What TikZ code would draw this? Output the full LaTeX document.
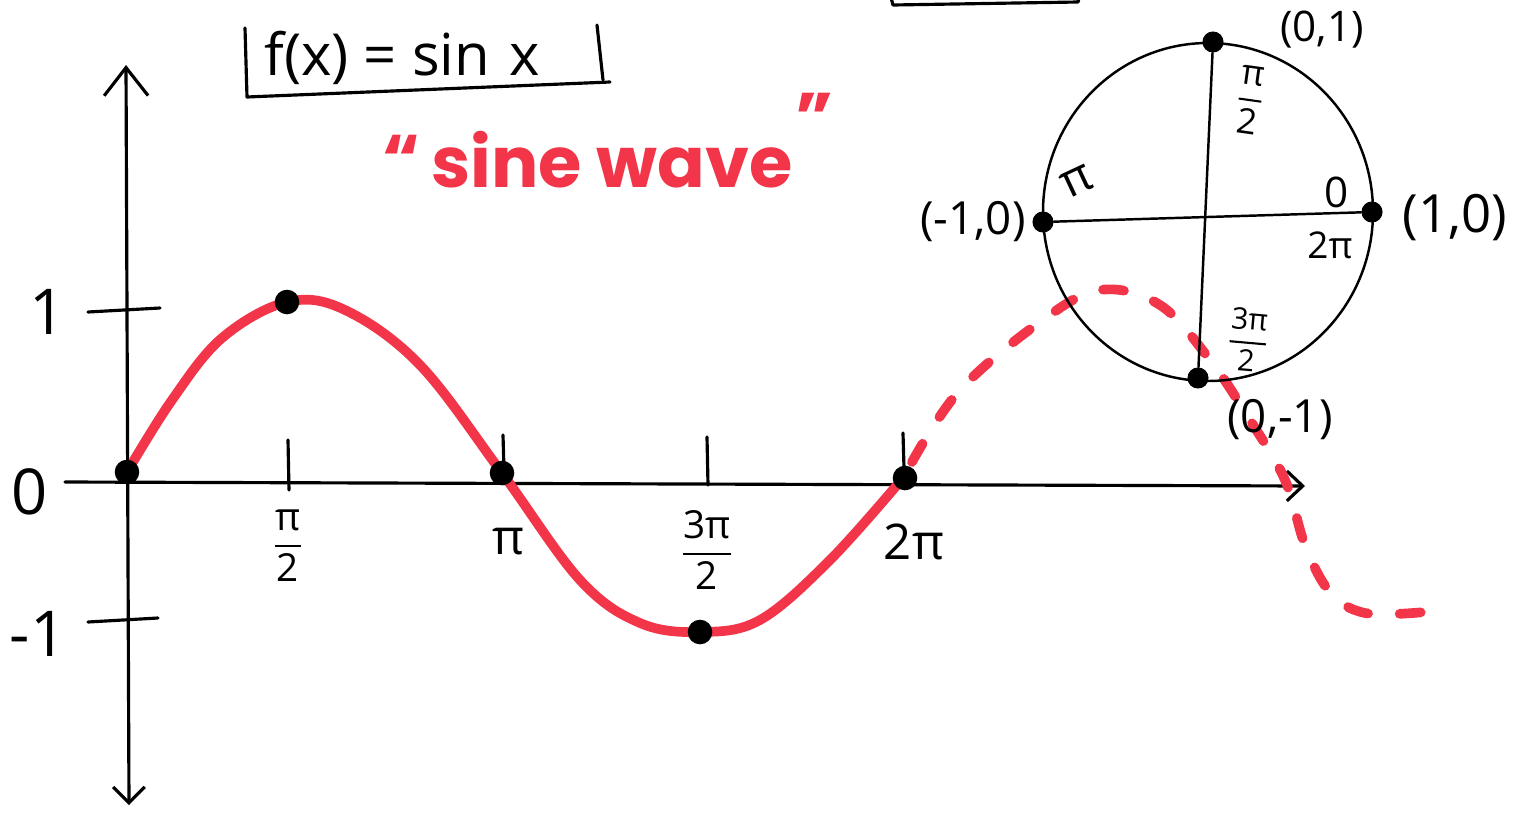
\documentclass[tikz,border=0pt]{standalone}
\usepackage{fontspec}
\usepackage{amsmath}
\usetikzlibrary{arrows.meta}
\setmainfont{Open Sans}
\newfontfamily\popfont{Poppins}
\definecolor{penred}{RGB}{242,53,72}
\newcommand{\fr}[2]{$\genfrac{}{}{1.2pt}{0}{\mbox{#1}}{\mbox{#2}}$}
\tikzset{
  ink/.style={line width=1.8pt, line cap=round, line join=round},
  circink/.style={line width=1.4pt, line cap=round, line join=round},
  dot/.style={circle, fill=black, inner sep=0pt, minimum size=14pt},
  lbl/.style={inner sep=0pt, font=\fontsize{22}{24}\selectfont},
  biglbl/.style={inner sep=0pt, font=\fontsize{28}{30}\selectfont},
  big/.style={inner sep=0pt, font=\fontsize{36}{38}\selectfont},
  wave/.style={penred, line width=5.5pt, line cap=round, line join=round},
  dashwave/.style={wave, dash pattern=on 12pt off 18pt},
  redtxt/.style={inner sep=0pt, text=penred, font=\popfont\bfseries\fontsize{40}{42}\selectfont},
}
\begin{document}
\begin{tikzpicture}[x=0.02cm,y=-0.02cm]
\useasboundingbox (0,0) rectangle (1515,825);
\clip (0,0) rectangle (1515,825);

% top fragment of another box
\draw[ink] (890,-6) -- (893,5) -- (1078,2) -- (1080,-6);

% formula box
\node[inner sep=0pt, font=\fontsize{33}{35}\selectfont] (fx) at (402,58) {f(x) = sin\,\,x};
\draw[ink] (245,28) -- (247,97) -- (610,82);
\draw[ink] (597,25) -- (603,80);

% sine wave label
\node[redtxt] (sw) at (612,160) {sine wave};
\node[redtxt] (q1) at (402,160) {“};
\node[redtxt] (q2) at (815,118) {”};

% axes
\coordinate (ytop) at (126,65);
\coordinate (ybot) at (129,805);
\coordinate (xl) at (65,482);
\coordinate (xr) at (1305,486);
\draw[ink, {Straight Barb[length=9pt,width=18pt]}-{Straight Barb[length=16pt,width=25pt]}] (ybot) -- (ytop);
\draw[ink, -{Straight Barb[length=9pt,width=17pt]}] (xl) -- (xr);

% y ticks and labels
\draw[ink] (88,312) -- (160,308);
\draw[ink] (88,622) -- (158,618);
\node[big] (y1) at (48,312) {1};
\node[big] (y0) at (30,492) {0};
\node[big] (ym1) at (38,634) {-1};

% x ticks and labels
\draw[ink] (288,440) -- (289,490);
\draw[ink] (503,435) -- (504,470);
\draw[ink] (707,437) -- (708,485);
\draw[ink] (903,433) -- (904,468);
\node[lbl] (xa) at (288,546) {\fr{π}{2}};
\node[biglbl] (xb) at (508,542) {π};
\node[lbl] (xc) at (707,550) {\fr{3π}{2}};
\node[biglbl] (xd) at (914,542) {2π};

% sine curve
\draw[wave] plot[smooth, tension=0.6] coordinates {(127,472) (172,400) (222,338) (287,302) (345,310) (420,365) (502,473) (580,580) (640,623) (700,632) (760,620) (830,560) (903,478)};
\draw[dashwave] plot[smooth, tension=0.6] coordinates {(912,462) (960,390) (1040,322) (1100,290) (1160,305) (1210,360) (1250,420) (1285,480) (1305,545) (1330,592) (1365,613) (1425,612)};

% dots on graph
\node[dot] (p0) at (127,472) {};
\node[dot] (p1) at (287,302) {};
\node[dot] (p2) at (502,473) {};
\node[dot] (p3) at (700,632) {};
\node[dot] (p4) at (905,478) {};

% unit circle
\draw[circink] (1208,212) ellipse [x radius=165, y radius=169];
\node[dot, minimum size=12pt] (ctop) at (1213,42) {};
\node[dot, minimum size=12pt] (cright) at (1372,212) {};
\node[dot, minimum size=12pt] (cleft) at (1043,222) {};
\node[dot, minimum size=12pt] (cbot) at (1198,378) {};
\draw[circink] (ctop) -- (cbot);
\draw[circink] (cleft) -- (cright);

% circle labels
\node[inner sep=0pt, font=\fontsize{24}{26}\selectfont] (l01) at (1322,30) {(0,1)};
\node[inner sep=0pt, font=\fontsize{30}{32}\selectfont] (l10) at (1455,218) {(1,0)};
\node[inner sep=0pt, font=\fontsize{26}{28}\selectfont] (lm10) at (973,222) {(-1,0)};
\node[inner sep=0pt, font=\fontsize{26}{28}\selectfont] (l0m1) at (1280,420) {(0,-1)};
\node[inner sep=0pt, font=\fontsize{20}{22}\selectfont, rotate=-8] (cpi2) at (1250,100) {\fr{π}{2}};
\node[inner sep=0pt, font=\fontsize{27}{29}\selectfont, rotate=25] (cpi) at (1077,182) {π};
\node[inner sep=0pt, font=\fontsize{24}{26}\selectfont] (c0) at (1337,192) {0};
\node[inner sep=0pt, font=\fontsize{21}{23}\selectfont] (c2pi) at (1330,245) {2π};
\node[inner sep=0pt, font=\fontsize{17}{19}\selectfont, rotate=-5] (c3pi2) at (1248,340) {\fr{3π}{2}};
\end{tikzpicture}
\end{document}
